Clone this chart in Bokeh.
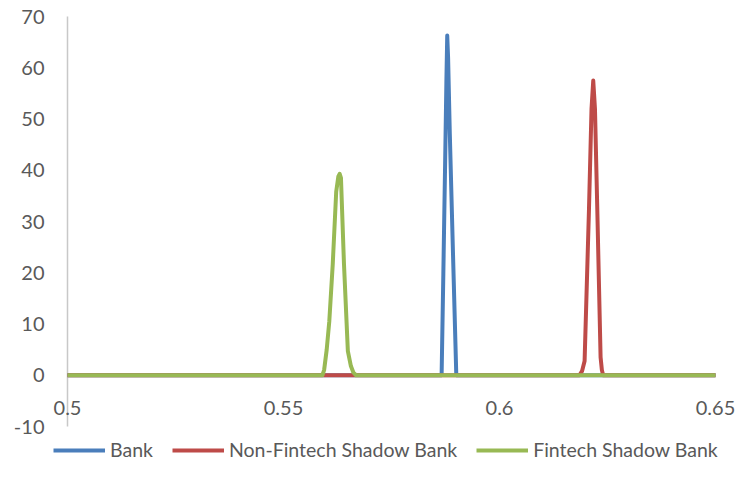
from bokeh.plotting import figure
from bokeh.models import Range1d, Legend, LegendItem, LabelSet, ColumnDataSource
from bokeh.core.properties import value
from bokeh.embed import file_html
from bokeh.resources import INLINE

# ---- data ----
bank_x = [0.5, 0.5866, 0.5870, 0.5874, 0.5877, 0.5879, 0.5881, 0.5885, 0.5893, 0.5900, 0.65]
bank_y = [0, 0, 19.8, 40.7, 57, 66.3, 62, 47, 21.7, 0, 0]

nonfin_x = [0.5, 0.6185, 0.6191, 0.6197, 0.6207, 0.6213, 0.6217, 0.6221, 0.6227, 0.6234, 0.6237, 0.6240, 0.65]
nonfin_y = [0, 0, 0.8, 2.8, 32, 52, 57.5, 52, 30, 3.5, 1, 0, 0]

fin_x = [0.5, 0.5590, 0.5594, 0.5600, 0.5606, 0.5614, 0.5622, 0.5627, 0.5630, 0.5633, 0.5640, 0.5649, 0.5656, 0.5662, 0.5668, 0.65]
fin_y = [0, 0, 1, 5, 10.5, 21.7, 35.8, 38.8, 39.3, 38.5, 21.7, 4.7, 1.8, 0.5, 0, 0]

x_ticks = [0.5, 0.55, 0.6, 0.65]
x_tick_labels = ["0.5", "0.55", "0.6", "0.65"]
y_ticks = [-10, 0, 10, 20, 30, 40, 50, 60, 70]
y_tick_labels = ["-10", "0", "10", "20", "30", "40", "50", "60", "70"]

x_min, x_max = 0.5, 0.65
y_min, y_max = -10, 70

series_names = ["Bank", "Non-Fintech Shadow Bank", "Fintech Shadow Bank"]
colors = ["#4A7EBB", "#BE4B48", "#98B954"]

FONT = "Lato"
TXT = "#595959"
AXC = "#C8C8C8"

W, H = 735, 487
# plot area (canvas pixels)
L, R, T, B = 67, 715, 16, 426
sx = (R - L) / (x_max - x_min)
sy = (B - T) / (y_max - y_min)

p = figure(width=W, height=H,
           x_range=Range1d(x_min - L / sx, x_max + (W - R) / sx),
           y_range=Range1d(y_min - (H - B) / sy, y_max + T / sy),
           output_backend="svg", toolbar_location=None,
           x_axis_location=None, y_axis_location=None,
           min_border=0)
p.outline_line_color = None
p.grid.visible = False
p.background_fill_color = "white"
p.border_fill_color = "white"

# vertical axis line at x = 0.5 (from -10 to 70)
p.segment(x0=[x_min], y0=[y_min], x1=[x_min], y1=[y_max], line_color=AXC, line_width=1.5)

# y tick labels
ysrc = ColumnDataSource(dict(x=[x_min] * len(y_ticks), y=y_ticks, t=y_tick_labels))
p.add_layout(LabelSet(x="x", y="y", text="t", source=ysrc, x_offset=-23,
                      text_align="right", text_baseline="middle",
                      text_font=value(FONT), text_font_size=value("20px"),
                      text_color=TXT))

# x tick labels under the line y = 0 (horizontal axis crosses at 0)
xsrc = ColumnDataSource(dict(x=x_ticks, y=[0] * len(x_ticks), t=x_tick_labels))
p.add_layout(LabelSet(x="x", y="y", text="t", source=xsrc, y_offset=-25.5,
                      text_align="center", text_baseline="top",
                      text_font=value(FONT), text_font_size=value("20px"),
                      text_color=TXT))

r1 = p.line(bank_x, bank_y, line_color=colors[0], line_width=4, line_join="round")
r2 = p.line(nonfin_x, nonfin_y, line_color=colors[1], line_width=4, line_join="round")
r3 = p.line(fin_x, fin_y, line_color=colors[2], line_width=4, line_join="round")

legend = Legend(items=[LegendItem(label=series_names[0], renderers=[r1]),
                       LegendItem(label=series_names[1], renderers=[r2]),
                       LegendItem(label=series_names[2], renderers=[r3])],
                orientation="horizontal", location=(53, 26),
                label_text_font=FONT, label_text_font_size="19.5px",
                label_text_color=TXT,
                glyph_width=52, glyph_height=20, label_standoff=5,
                spacing=19, padding=0, margin=0,
                border_line_alpha=0, background_fill_alpha=0)
p.add_layout(legend, "center")

open("out.html", "w").write(file_html(p, INLINE))
